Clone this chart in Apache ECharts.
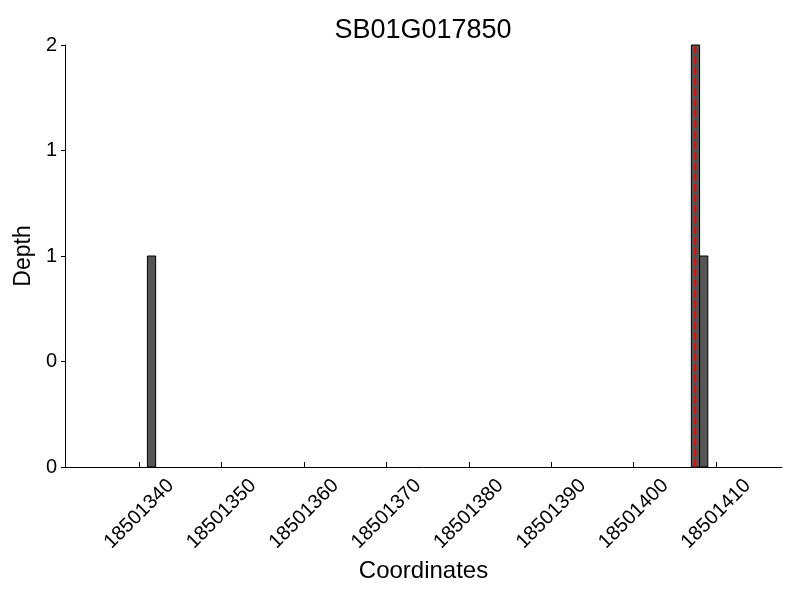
<!DOCTYPE html>
<html>
<head>
<meta charset="utf-8">
<script src="https://cdn.jsdelivr.net/npm/echarts@6/dist/echarts.min.js"></script>
<style>html,body{margin:0;padding:0;background:#fff}#c{width:800px;height:600px}</style>
</head>
<body>
<div id="c"></div>
<script>
const titleText = 'SB01G017850';
const positions = [18501341, 18501407, 18501408];
const depths = [1, 2, 1];
const markerPos = 18501407.5;
const xTicks = [18501340, 18501350, 18501360, 18501370, 18501380, 18501390, 18501400, 18501410];
const yTicks = [0, 0.5, 1, 1.5, 2];
const xMin = 18501331, xMax = 18501418;

const FONT = 'Liberation Sans';
const chart = echarts.init(document.getElementById('c'), null, {renderer: 'canvas'});
const barData = positions.map((p, i) => [p, depths[i]]);

chart.setOption({
  animation: false,
  backgroundColor: '#fff',
  title: {
    text: titleText, left: 418, top: 12, textAlign: 'center',
    textStyle: {fontFamily: FONT, fontSize: 27, fontWeight: 'normal', color: '#000'}
  },
  grid: {left: 65, right: 18, top: 45, bottom: 133},
  xAxis: {
    type: 'value', min: xMin, max: xMax,
    name: 'Coordinates', nameLocation: 'middle', nameGap: 85,
    nameTextStyle: {fontFamily: FONT, fontSize: 24, color: '#000'},
    axisLine: {show: true, lineStyle: {color: '#000', width: 1}},
    axisTick: {show: true, inside: true, length: 5, customValues: xTicks, lineStyle: {color: '#000'}},
    axisLabel: {
      customValues: xTicks, rotate: 45, align: 'center', verticalAlign: 'middle', margin: 47,
      fontFamily: FONT, fontSize: 20, color: '#000', formatter: v => String(v)
    },
    splitLine: {show: false}
  },
  yAxis: {
    type: 'value', min: 0, max: 2,
    name: 'Depth', nameLocation: 'middle', nameGap: 27, nameRotate: 90,
    nameTextStyle: {fontFamily: FONT, fontSize: 23, color: '#000'},
    axisLine: {show: true, lineStyle: {color: '#000', width: 1}},
    axisTick: {show: true, length: 4, customValues: yTicks, lineStyle: {color: '#000'}},
    axisLabel: {
      customValues: yTicks, margin: 8, fontFamily: FONT, fontSize: 20, color: '#000',
      formatter: v => String(Math.floor(v))
    },
    splitLine: {show: false}
  },
  series: [
    {
      type: 'custom',
      data: barData,
      renderItem: function (params, api) {
        const x = api.value(0), h = api.value(1);
        const p0 = api.coord([x, 0]);
        const p1 = api.coord([x + 1, h]);
        return {
          type: 'rect',
          shape: {x: p0[0], y: p1[1], width: p1[0] - p0[0], height: p0[1] - p1[1]},
          style: {fill: '#555555', stroke: '#000', lineWidth: 1}
        };
      },
      z: 2
    },
    {
      type: 'line',
      data: [[markerPos, 0], [markerPos, 2]],
      symbol: 'none',
      lineStyle: {color: '#ff0000', width: 2, type: [7.4, 3.2]},
      z: 3
    }
  ]
});
</script>
</body>
</html>
